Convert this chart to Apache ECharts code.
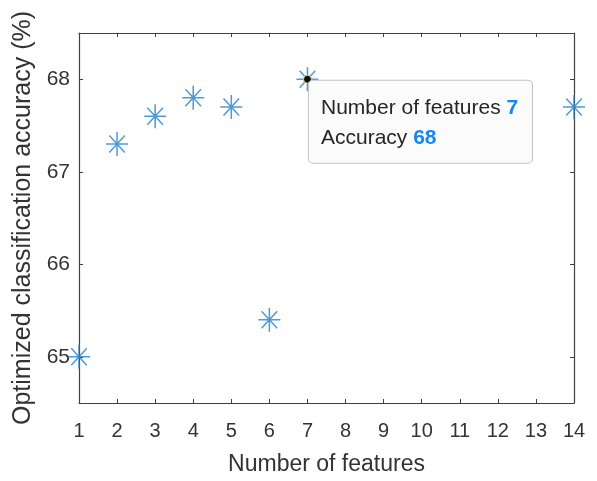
<!DOCTYPE html>
<html>
<head>
<meta charset="utf-8">
<script src="https://cdn.jsdelivr.net/npm/echarts@6/dist/echarts.min.js"></script>
<style>
  html, body { margin: 0; padding: 0; background: #ffffff; }
  #chart { width: 597px; height: 481px; }
</style>
</head>
<body>
<div id="chart"></div>
<script>
// Number of features vs. optimized accuracy
const featureCounts = [1, 2, 3, 4, 5, 6, 7, 14];
const accuracyValues = [65, 67.3, 67.6, 67.8, 67.7, 65.4, 68, 67.7];
const yTickValues = [65, 66, 67, 68];
const highlightedIndex = 6;

const FONT = '"Liberation Sans", Arial, Helvetica, sans-serif';
const AXIS_COLOR = '#404040';
const TEXT_COLOR = '#333333';
const MARK_COLOR = '#2280cc';

// 8-arm asterisk marker drawn as strokes
const asteriskPath = 'path://M0,-12 L0,12 M-11,0 L11,0 M-7.8,-8.5 L7.8,8.5 M-7.8,8.5 L7.8,-8.5';

const points = featureCounts.map((x, i) => [x, accuracyValues[i]]);
const tipPoint = points[highlightedIndex];

const chart = echarts.init(document.getElementById('chart'), null, { renderer: 'canvas' });

const xBase = {
  type: 'value', min: 1, max: 14, interval: 1,
  axisLine: { show: true, onZero: false, lineStyle: { color: AXIS_COLOR, width: 1.2 } },
  axisTick: { show: true, inside: true, length: 4, lineStyle: { color: AXIS_COLOR } },
  splitLine: { show: false }
};
const yBase = {
  type: 'value', min: 64.5, max: 68.5,
  axisLine: { show: true, onZero: false, lineStyle: { color: AXIS_COLOR, width: 1.2 } },
  axisTick: { show: true, inside: true, length: 4, customValues: yTickValues, lineStyle: { color: AXIS_COLOR } },
  splitLine: { show: false }
};

chart.setOption({
  backgroundColor: '#ffffff',
  animation: false,
  grid: { left: 79, right: 23, top: 33, bottom: 78, containLabel: false },
  xAxis: [
    Object.assign({}, xBase, {
      position: 'bottom',
      name: 'Number of features',
      nameLocation: 'middle',
      nameGap: 50,
      nameTextStyle: { fontFamily: FONT, fontSize: 23, color: TEXT_COLOR },
      axisLabel: { show: true, margin: 18, fontFamily: FONT, fontSize: 20, color: TEXT_COLOR }
    }),
    Object.assign({}, xBase, { position: 'top', axisLabel: { show: false } })
  ],
  yAxis: [
    Object.assign({}, yBase, {
      position: 'left',
      name: 'Optimized classification accuracy (%)',
      nameLocation: 'middle',
      nameGap: 42,
      nameTextStyle: { fontFamily: FONT, fontSize: 25, color: TEXT_COLOR },
      axisLabel: { show: true, margin: 9, customValues: yTickValues, fontFamily: FONT, fontSize: 21, color: TEXT_COLOR }
    }),
    Object.assign({}, yBase, { position: 'right', axisLabel: { show: false } })
  ],
  series: [
    {
      type: 'scatter',
      xAxisIndex: 0, yAxisIndex: 0,
      data: points,
      symbol: asteriskPath,
      symbolSize: [22, 24],
      itemStyle: { color: 'rgba(0,0,0,0)', borderColor: MARK_COLOR, borderWidth: 1.6 },
      clip: false,
      z: 2
    },
    {
      type: 'scatter',
      xAxisIndex: 0, yAxisIndex: 0,
      data: [tipPoint],
      symbol: 'circle',
      symbolSize: 8,
      itemStyle: { color: '#111111', borderColor: '#e6dc9a', borderWidth: 1, opacity: 1 },
      clip: false,
      z: 3,
      label: {
        show: true,
        position: [6, 6],
        align: 'left',
        verticalAlign: 'top',
        backgroundColor: '#fbfbfc',
        borderColor: '#c4c4c4',
        borderWidth: 1,
        borderRadius: 4,
        padding: [12, 12, 10, 12],
        width: 199,
        formatter: p => 'Number of features {v|' + p.value[0] + '}\nAccuracy {v|' + p.value[1] + '}',
        fontFamily: FONT,
        fontSize: 21,
        lineHeight: 30,
        color: '#262626',
        opacity: 1,
        rich: {
          v: { fontFamily: FONT, fontSize: 21, lineHeight: 30, fontWeight: 'bold', color: '#1486f5' }
        }
      }
    }
  ]
});
</script>
</body>
</html>
